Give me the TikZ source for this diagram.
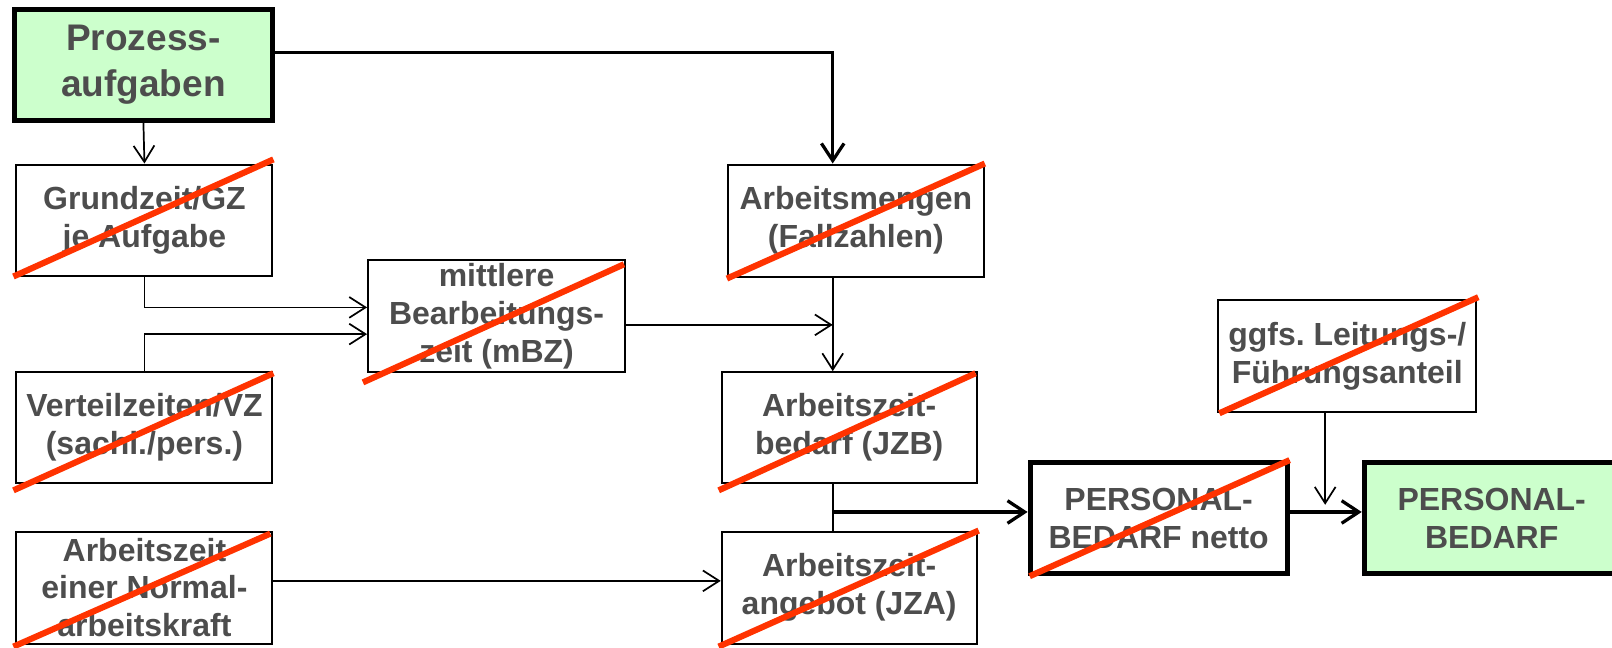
\documentclass[tikz,border=0pt]{standalone}
\usepackage{fontspec}
\setmainfont{Liberation Sans}
\usetikzlibrary{arrows.meta,calc}
\definecolor{boxgreen}{HTML}{CCFFCC}
\definecolor{txtgray}{HTML}{4D4D4D}
\definecolor{strikered}{HTML}{FF3300}
\begin{document}
\begin{tikzpicture}[x=0.02cm,y=-0.02cm,
  box/.style={draw=black,line width=1.1pt,fill=white,rectangle,inner sep=0pt,align=center,
    text=txtgray,font=\fontsize{17.7}{21}\selectfont\bfseries,
    minimum width=4.98cm,minimum height=2.16cm},
  thickbox/.style={line width=2.8pt},
  greenbox/.style={fill=boxgreen},
  thinarrow/.style={line width=0.95pt,-{Straight Barb[length=9pt,width=11.5pt]}},
  thickarrow/.style={line width=1.8pt,-{Straight Barb[length=9.5pt,width=12.5pt]}},
  strikeline/.style={draw=strikered,line width=3.4pt}]
\useasboundingbox (0,0) rectangle (1568,630);
\fill[white] (0,0) rectangle (1568,630);
\clip (0,0) rectangle (1568,630);

% boxes
\node[box,thickbox,greenbox,minimum width=5.02cm,
  font=\fontsize{20.5}{25.5}\selectfont\bfseries] (pa) at (139.5,63) {Prozess-\\aufgaben};
\node[box] (gz) at (140.5,214) {Grundzeit/GZ\\je Aufgabe};
\node[box,minimum width=5cm,minimum height=2.18cm] (mbz) at (483,307.5) {mittlere\\Bearbeitungs-\\zeit (mBZ)};
\node[box] (vz) at (140.5,416) {Verteilzeiten/VZ\\(sachl./pers.)};
\node[box,minimum height=2.18cm] (na) at (140.5,571.5) {Arbeitszeit\\einer Normal-\\arbeitskraft};
\node[box,minimum height=2.18cm] (am) at (832.5,214.5) {Arbeitsmengen\\(Fallzahlen)};
\node[box,minimum width=4.96cm] (jzb) at (826,416) {Arbeitszeit-\\bedarf (JZB)};
\node[box,minimum width=4.96cm,minimum height=2.18cm] (jza) at (826,571.5) {Arbeitszeit-\\angebot (JZA)};
\node[box,minimum width=5.02cm,minimum height=2.18cm] (gg) at (1310.5,346.5) {ggfs.\ Leitungs-/\\Führungsanteil};
\node[box,thickbox,minimum width=5cm] (pn) at (1127,504) {PERSONAL-\\BEDARF netto};
\node[box,thickbox,greenbox,minimum width=4.96cm] (pb) at (1451,504) {PERSONAL-\\BEDARF};

% helper coordinates
\coordinate (cA) at (810,0);
\coordinate (cG) at (1289,0);
\coordinate (rP) at (0,51);
\coordinate (r1) at (0,299);
\coordinate (r2) at (0,325);
\coordinate (r3) at (0,316);
\coordinate (r4) at (0,565);
\coordinate (r5) at (0,498);
\coordinate (tG) at (0,491);

% connectors
\draw[thinarrow] (pa.south) -- (gz.north);
\draw[thickarrow] (pa.east |- rP) -| (am.north -| cA);
\draw[thinarrow] (gz.south) |- (mbz.west |- r1);
\draw[thinarrow] (vz.north) |- (mbz.west |- r2);
\draw[thinarrow] (mbz.east |- r3) -- (cA |- r3);
\draw[thinarrow] (am.south -| cA) -- (jzb.north -| cA);
\draw[thinarrow] (na.east |- r4) -- (jza.west |- r4);
\draw[line width=1.3pt] (jzb.south -| cA) -- (jza.north -| cA);
\draw[thickarrow] (cA |- r5) -- (pn.west |- r5);
\draw[thickarrow] (pn.east |- r5) -- (pb.west |- r5);
\draw[thinarrow] (gg.south -| cG) -- (cG |- tG);

% strike-through lines
\draw[strikeline] ($(gz.south west)+(-2,0)$) -- ($(gz.north east)+(0,-4)$);
\draw[strikeline] ($(mbz.south west)+(-4,9)$) -- ($(mbz.north east)+(-2,5)$);
\draw[strikeline] ($(vz.south west)+(-2,6)$) -- ($(vz.north east)+(0,2)$);
\draw[strikeline] ($(na.south west)+(-2,2)$) -- ($(na.north east)+(-3,3)$);
\draw[strikeline] ($(am.south west)+(0,1)$) -- ($(am.north east)+(0,0)$);
\draw[strikeline] ($(jzb.south west)+(-2,6)$) -- ($(jzb.north east)+(-2,2)$);
\draw[strikeline] ($(jza.south west)+(-2,2)$) -- ($(jza.north east)+(1,0)$);
\draw[strikeline] ($(gg.south west)+(2,0)$) -- ($(gg.north east)+(1,-2)$);
\draw[strikeline] ($(pn.south west)+(2,0)$) -- ($(pn.north east)+(0,0)$);
\end{tikzpicture}
\end{document}
